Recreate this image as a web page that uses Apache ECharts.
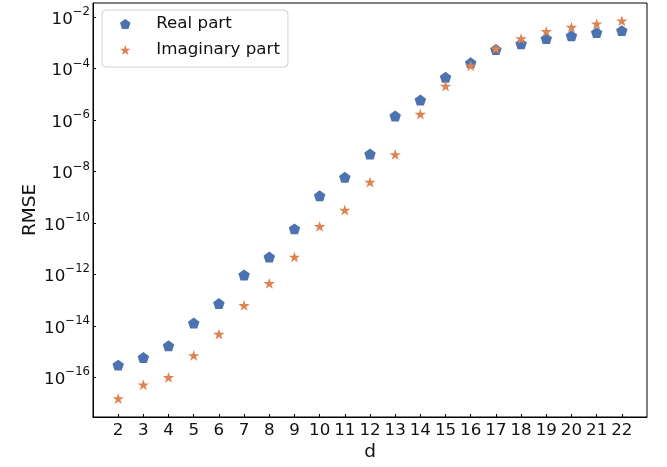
<!DOCTYPE html>
<html>
<head>
<meta charset="utf-8">
<script src="https://cdn.jsdelivr.net/npm/echarts@6/dist/echarts.min.js"></script>
<style>html,body{margin:0;padding:0;background:#fff;}#c{width:667px;height:467px;}</style>
</head>
<body>
<div id="c"></div>
<script>
var dValues = [2,3,4,5,6,7,8,9,10,11,12,13,14,15,16,17,18,19,20,21,22];
var realPart = [3.0e-16, 5.9e-16, 1.7e-15, 1.3e-14, 7.4e-14, 9.6e-13, 4.8e-12, 5.9e-11, 1.15e-9, 6.0e-9, 4.8e-8, 1.45e-6, 6.0e-6, 4.6e-5, 1.7e-4, 5.5e-4, 9.3e-4, 1.46e-3, 1.9e-3, 2.5e-3, 3.0e-3];
var imagPart = [1.5e-17, 5.2e-17, 1.0e-16, 7.1e-16, 4.8e-15, 6.3e-14, 4.5e-13, 4.8e-12, 7.4e-11, 3.2e-10, 3.9e-9, 4.6e-8, 1.7e-6, 2.1e-5, 1.3e-4, 6.0e-4, 1.46e-3, 2.8e-3, 4.1e-3, 5.5e-3, 7.2e-3];
var xTickLabels = [2,3,4,5,6,7,8,9,10,11,12,13,14,15,16,17,18,19,20,21,22];
var yTickExponents = [-16,-14,-12,-10,-8,-6,-4,-2];
var seriesNames = ['Real part', 'Imaginary part'];

var PENTAGON = 'path://M0,-1L0.951,-0.309L0.588,0.809L-0.588,0.809L-0.951,-0.309Z';
var STAR = 'path://M0,-1L0.2245,-0.309L0.951,-0.309L0.363,0.118L0.588,0.809L0,0.382L-0.588,0.809L-0.363,0.118L-0.951,-0.309L-0.2245,-0.309Z';
var FONT = 'DejaVu Sans';

function pairs(ys){ return dValues.map(function(d,i){ return [d, ys[i]]; }); }

var chart = echarts.init(document.getElementById('c'), null, {renderer:'canvas'});
chart.setOption({
  animation: false,
  backgroundColor: '#fff',
  textStyle: {fontFamily: FONT},
  grid: {left: 93, right: 20, top: 3, bottom: 46, show: true, borderColor: '#000', borderWidth: 1, backgroundColor: 'transparent'},
  legend: {
    orient: 'vertical', left: 102, top: 10,
    padding: [5, 8, 8, 18],
    itemWidth: 28, itemHeight: 10, itemGap: 8,
    backgroundColor: '#fff', borderColor: '#d0d0d0', borderWidth: 1, borderRadius: 4,
    textStyle: {fontFamily: FONT, fontSize: 16.7, color: '#111', lineHeight: 18, padding: [0,0,0,12]},
    data: seriesNames
  },
  xAxis: {
    type: 'value', min: 1, max: 23, interval: 1,
    name: 'd', nameLocation: 'middle', nameGap: 26, nameMoveOverlap: false,
    nameTextStyle: {fontFamily: FONT, fontSize: 18.5, color: '#111'},
    axisLine: {show: true, onZero: false, lineStyle: {color: '#000', width: 1}},
    axisTick: {show: true, inside: true, length: 3, customValues: xTickLabels, lineStyle: {color: '#000'}},
    axisLabel: {customValues: xTickLabels, margin: 5, fontFamily: FONT, fontSize: 16.7, color: '#111'},
    splitLine: {show: false}
  },
  yAxis: {
    type: 'log', logBase: 10,
    min: Math.pow(10, -17.54), max: Math.pow(10, -1.45),
    name: 'RMSE', nameLocation: 'middle', nameGap: 53, nameMoveOverlap: false,
    nameTextStyle: {fontFamily: FONT, fontSize: 18.5, color: '#111'},
    axisLine: {show: true, lineStyle: {color: '#000', width: 1}},
    axisTick: {show: true, inside: true, length: 3, customValues: yTickExponents.map(function(e){return Math.pow(10,e);}), lineStyle: {color: '#000'}},
    axisLabel: {
      customValues: yTickExponents.map(function(e){return Math.pow(10,e);}),
      margin: 3,
      formatter: function(v){ var e = Math.round(Math.log10(v)); return '{b|10}{s|' + (e < 0 ? '\u2212' : '') + Math.abs(e) + '}'; },
      rich: {
        b: {fontFamily: FONT, fontSize: 16.7, color: '#111', verticalAlign: 'bottom', lineHeight: 22},
        s: {fontFamily: FONT, fontSize: 11.7, color: '#111', verticalAlign: 'top', lineHeight: 22, padding: [0,0,6,0]}
      }
    },
    splitLine: {show: false}
  },
  series: [
    {name: seriesNames[0], type: 'scatter', data: pairs(realPart), symbol: PENTAGON, symbolKeepAspect: true, symbolSize: 11.5,
     itemStyle: {color: '#4C72B0', opacity: 1}},
    {name: seriesNames[1], type: 'scatter', data: pairs(imagPart), symbol: STAR, symbolKeepAspect: true, symbolSize: 11.5,
     itemStyle: {color: '#DD8452', opacity: 1}}
  ]
});
</script>
</body>
</html>
